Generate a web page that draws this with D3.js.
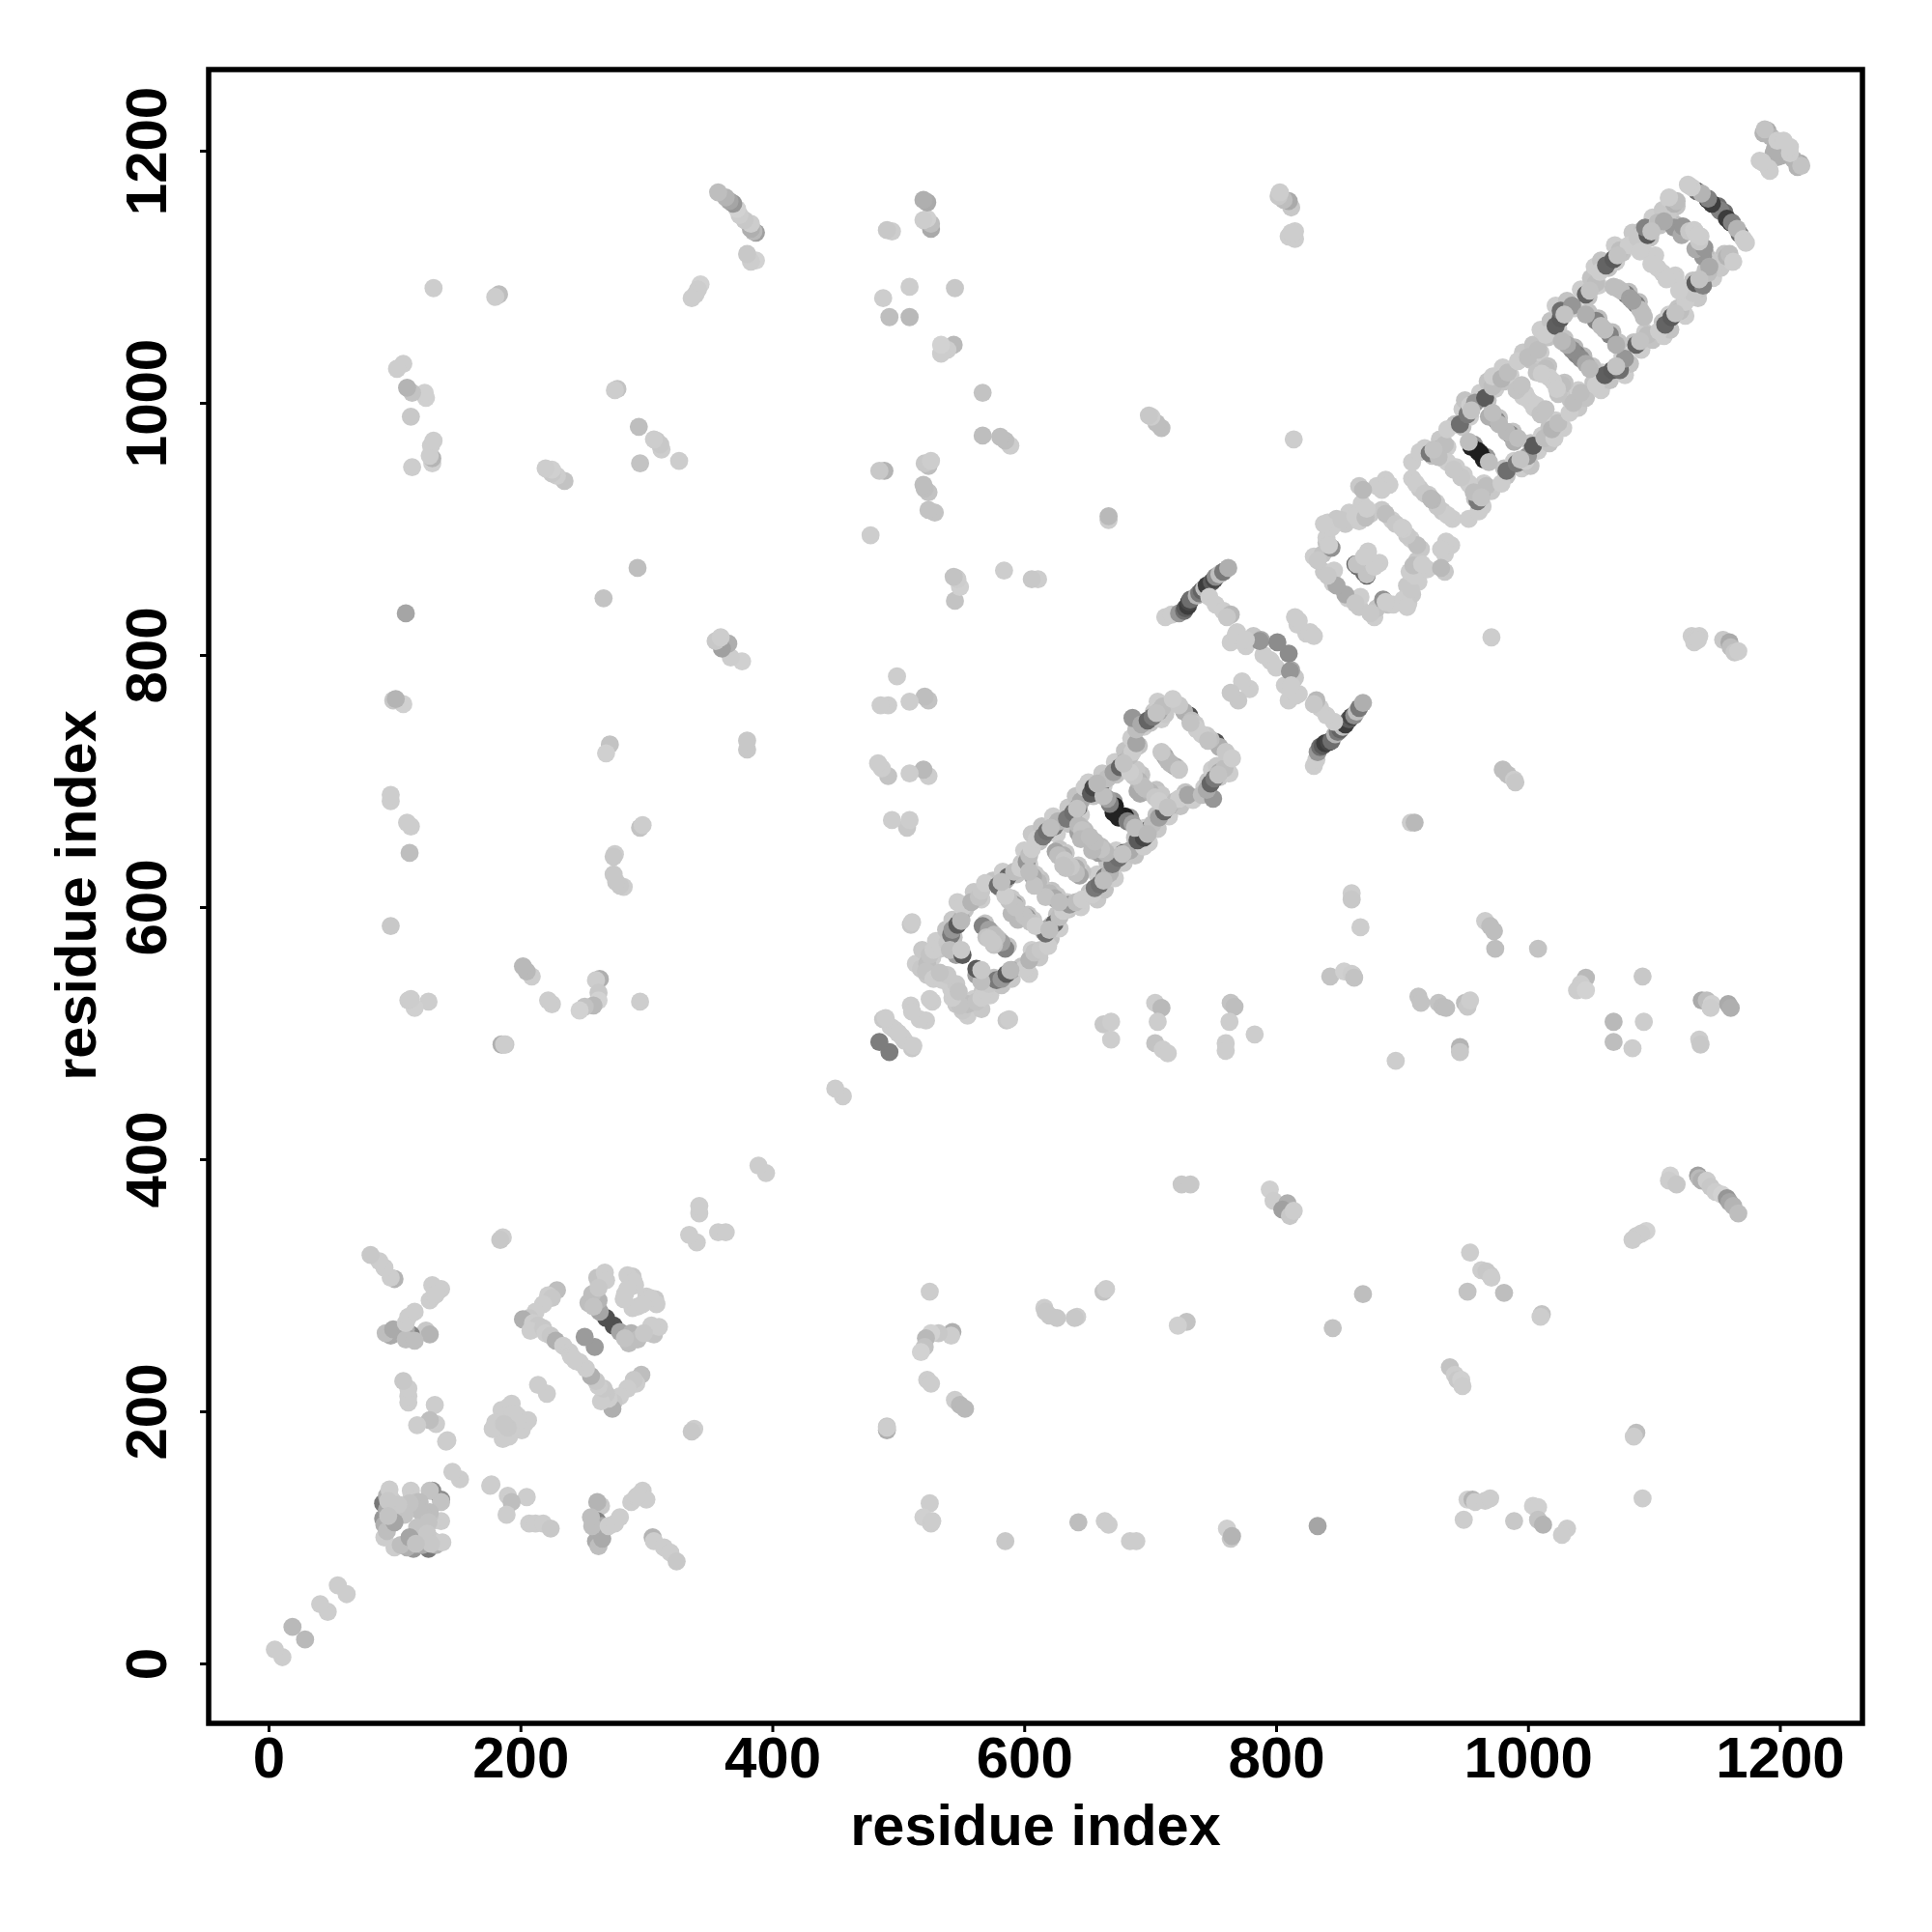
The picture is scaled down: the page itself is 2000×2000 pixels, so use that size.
<!DOCTYPE html>
<html><head><meta charset="utf-8">
<script src="https://cdnjs.cloudflare.com/ajax/libs/d3/7.8.5/d3.min.js"></script>
<style>html,body{margin:0;background:#fff}svg{display:block}</style></head>
<body><div id="chart"></div>
<script>
// Every row: residue i, residue j, gray level of the contact (0 black .. 255 white).
// The map is symmetric: each contact is plotted at (i,j) and (j,i).
const tickValues = [0, 200, 400, 600, 800, 1000, 1200];
const xLabel = "residue index";
const yLabel = "residue index";

const nearDiagonal = [[11,5,205],[29,19,185],[47,41,205],[62,55,205],[152,146,205],[340,334,205],[357,342,205],[363,342,205],[395,389,205],[456,450,205],
[493,485,125],[511,488,200],[505,494,205],[503,497,205],[500,500,205],[512,490,205],[522,510,205],[517,511,205],[527,525,205]];

const boxN = [[127,91,120],[115,91,150],[122,94,170],[133,94,180],[110,92,175],[100,92,205],[105,94,190],[114,99,175],[118,100,190],[129,98,130],[131,97,205],[138,96,205],[137,113,205],[130,113,205],[137,130,140],[128,118,195],[137,128,195],[128,120,190],[122,119,190],[127,112,195],[118,108,195],[126,103,200],[112,100,165],[129,95,200],[117,95,195]];

const boxM = [[259,251,155],[274,268,80],[279,263,165],[288,262,180],[286,254,190],[293,257,190],[303,262,205],[306,261,195],[310,267,205],[307,289,200],[300,291,205],[293,283,205],[289,282,205],[308,285,205],[303,290,205],[297,285,205],[304,268,205],[298,262,200],[283,258,195],[296,229,190],[292,222,205],[290,225,200],[285,218,205],[279,212,205],[274,207,200],[273,202,175],[270,210,205],[268,214,200],[264,208,205],[266,218,200],[262,220,205],[260,224,200],[256,228,175],[252,234,205],[247,239,205],[244,240,205],[241,243,205],[221,214,205],[204,191,205],[201,185,205],[206,193,205],[191,180,205],[186,178,205],[198,196,205],[198,194,205],[190,187,200]];

const sparseLow = [[338,186,205],[336,184,200],[177,142,205],[176,141,205],[190,133,205],[205,132,205],[193,128,190],[189,118,205],[207,111,205],[212,111,205],[218,111,205],[224,107,200],
[264,125,200],[261,128,180],[261,113,130],[260,97,170],[262,93,190],[265,99,170],[265,109,170],[257,109,190],[256,116,190],[270,109,205],[275,111,205],[279,116,205],[288,128,205],[292,132,205],[297,137,205],[300,130,205],[293,133,205],
[305,100,180],[306,97,205],[314,92,205],[319,88,205],[324,81,200],
[725,380,200],[732,380,200],[795,376,208],[798,367,205],[809,365,175],[805,360,160],[811,355,200],[814,359,205],
[525,295,205],[543,263,175],[542,260,205],[532,262,200],[526,262,210],[522,258,185],[521,251,195],[518,247,210],[523,225,205],[526,222,205],[545,209,205],[549,205,185],[553,202,185],[491,185,175],[491,188,200],[491,187,205],
[525,127,205],[520,116,208],[526,111,205],[527,113,205],[585,97,200],[643,112,190],[664,113,205],[667,110,205],[684,97,205],[689,97,205],[761,107,208],[764,99,200],[765,101,180],[833,109,165],
[616,282,205],[617,279,200],[620,276,200],[626,274,200],[642,275,205],[640,274,200],[663,295,195],[665,297,205],[729,271,195],[722,268,208],[845,266,195],[869,293,190],
[1113,387,210],[1112,383,205],[1118,380,200],[1135,387,160],[1136,385,185],[1138,383,175],[1142,383,205],[1145,378,200],[1149,374,205],[1154,372,210],[1158,369,150],[1160,366,165],[1163,363,180],[1167,357,190],
[1094,343,210],[1090,341,205],[1086,339,205],[1083,336,205],[954,326,205],[963,312,205],[967,311,200],[970,308,200],[971,306,205],[952,295,195],[981,294,190],[1011,277,195],[1010,275,205],
[938,235,195],[942,229,205],[944,225,200],[947,225,208],[948,220,205],[1086,183,190],[1084,180,205],[1091,131,205],[952,130,208],[956,130,180],[958,128,205],[966,129,205],[970,131,205],[949,114,205],[989,113,200],[1004,125,208],[1008,124,208],[1008,114,195],[1012,110,180],[1031,107,205],[1027,102,205]];

const sparseMid = [[980,709,190],[984,705,190],[989,701,205],[990,699,200],[907,667,205],[910,667,185],[860,611,205],[860,606,200],[867,584,205],[971,814,205],
[966,589,205],[970,585,190],[973,581,190],[974,567,190],[1008,567,195],[1046,544,185],[1042,539,205],[1039,534,205],[1046,534,210],[1091,545,200],[1068,509,185],[1092,509,205],[1068,493,190],[1083,488,205],
[1138,526,170],[1142,526,190],[1146,523,208],[1145,520,205],[1159,523,170],[1161,520,175],[1136,495,205],[1137,491,200],
[843,545,195],[854,549,208],[861,546,190],[860,547,205],[862,544,195],[913,529,195],[915,524,195],[929,524,195],[932,521,190],[935,520,190],[950,524,190],[952,521,200],[954,526,205],[895,478,205],[946,489,180],[946,485,200],
[663,507,200],[669,509,205],[669,495,205],[704,524,205],[709,520,185],[706,509,205],[704,492,195],[710,487,205],[714,484,205],[764,524,195],[767,521,190],[763,509,205],[760,492,205],[760,486,205],[783,499,205],[586,510,200],[588,511,205],
[1130,815,205],[1136,815,205],[1132,810,205],[1135,812,205],[1155,812,200],[1160,810,170],[1161,806,190],[1164,802,200],[1167,803,205],
[779,773,205],[770,764,200]];

const ladderABacking = [[555,514,205],[566,519,200],[573,530,205],[582,538,195],[590,543,200],[604,547,205],[612,560,200],[621,575,195],[628,583,205],[635,598,200],[645,600,205],[658,606,200],[664,614,195],[672,623,205],[679,635,200],[688,641,195],[699,651,205],[706,662,200],[715,672,205],[724,680,195],[734,685,205],[755,703,200],[763,706,205],
[560,527,205],[567,533,200],[576,544,195],[584,545,205],[598,553,195],[606,566,205],[615,581,195],[622,586,205],[626,594,195],[634,604,205],[652,612,195],[658,626,205],[666,636,195],[673,645,205],[688,655,195],[696,663,205],[705,673,195],[713,682,205],[728,691,195],[743,695,205],[746,700,195],[749,709,205],[753,712,200],
[564,549,195],[587,569,195],[580,574,200],[603,594,195],[607,590,200],[622,613,195],[626,609,200],[646,628,195],[643,633,200],[664,645,195],[661,648,190],[684,671,150],[705,693,195],[709,689,200],[721,711,195]];

const ladderAEdge = [[551,518,200],[546,523,200],[555,523,190],[549,522,195],[543,528,205],[562,525,195],[566,528,205],[569,534,205],[572,539,200],[578,542,120],[582,543,150],[586,547,90],[590,550,170],[600,551,205],[604,558,180],[608,564,195],[613,566,200],[619,569,205],[617,579,110],[620,584,170],[624,587,100],[628,592,190],[631,597,205],[636,602,150],[641,604,190],[646,606,205],[654,610,205],[656,615,120],[660,618,110],[664,624,120],[668,627,180],[670,634,120],[675,639,110],[679,643,100],[684,645,170],[695,648,205],[690,653,90],[695,655,70],[698,661,90],[702,666,190],[707,671,160],[711,676,100],[715,680,160],[720,684,190],[723,686,205],[730,689,165],[741,689,190],[750,686,150],[745,693,170],[748,698,100],[751,702,120],[755,707,170],[759,710,190],[752,731,80],[755,727,175],[748,733,190],[745,736,200],[741,737,205],[746,732,195],[760,723,200],[765,718,205]];

const ladderARungs = [[542,535,205],[546,539,200],[548,533,195],[562,546,160],[566,541,190],[562,551,90],[566,550,200],[585,567,130],[582,572,160],[578,576,190],[576,570,195],[572,575,200],[602,592,150],[597,594,175],[595,590,185],[600,593,195],[605,588,195],[609,585,205],[616,614,200],[620,611,185],[624,607,170],[617,608,195],[628,604,190],[644,625,165],[641,631,175],[641,627,190],[637,632,200],[633,631,195],[659,643,160],[665,643,185],[661,646,195],[654,645,185],[656,652,190],[680,672,30],[675,671,35],[682,668,125],[686,666,160],[688,663,190],[692,690,170],[700,691,180],[696,694,190],[704,687,200],[707,684,205],[719,712,170],[716,714,185],[723,709,200]];

const ladderAOverlay = [[589,550,185],[620,582,190],[663,621,190],[678,642,195],[698,658,185],[714,679,195],[754,705,195]];

const linkStem = [[830,712,205],[832,717,205],[833,723,150],[835,727,110],[837,728,90],[839,730,60],[842,731,70],[844,732,110],[847,737,180],[849,739,120],[851,741,100],[853,743,190],[855,745,60],[858,749,90],[860,751,70],[862,752,140],[864,755,190],[866,758,120],[869,762,175],
[846,747,205],[840,752,205],[835,758,205],[832,764,185],[830,761,200],[818,769,205],[810,764,205],[807,776,205],[815,782,200],[812,788,170],[810,801,140],[796,795,205],[800,790,205],[811,787,150],[816,768,205],[812,776,205],[829,816,205],[824,817,205],[827,818,205],[830,815,205]];

const ladderBBacking = [[857,845,205],[866,838,200],[878,830,205],[889,840,195],[905,841,205],[908,848,200],[913,858,205],[912,875,200],[920,868,205],[934,866,200],[939,887,205],[934,880,205],[915,884,200],[907,892,205],[940,908,205],[932,914,200],[927,921,205],[867,846,205],[880,837,195],[893,840,205],[904,855,200],[906,866,205],
[964,918,205],[971,930,200],[983,942,195],[995,948,205],[1002,950,195],[1008,962,205],[1017,968,195],[1028,980,205],[1040,996,200],[1046,1004,195],[1058,1010,205],[1065,1018,195],[1077,1022,205],[1081,1031,195],[1090,1042,205],[1099,1050,195],[1108,1053,205],[1113,1058,195],[1125,1069,205],[1135,1083,200],[1137,1091,195],[1147,1099,205],[1153,1107,200],[1162,1112,205],
[958,924,195],[965,936,205],[981,948,195],[989,954,205],[1002,968,195],[1011,974,205],[1017,981,195],[1022,986,205],[1034,1002,195],[1040,1010,205],[1052,1016,195],[1059,1024,205],[1071,1028,195],[1075,1037,205],[1084,1048,195],[1093,1056,205],[1107,1064,195],[1112,1070,205],[1119,1075,195],[1129,1089,205],[1131,1097,195],[1137,1095,205],[1141,1105,195],[1147,1113,205],[1156,1118,195],
[955,934,200],[949,943,205],[967,957,150],[988,977,195],[991,971,200],[1007,998,205],[1012,993,195],[1029,1016,195],[1026,1009,200],[1044,1037,185],[1051,1029,195],[1067,1056,190],[1072,1048,195],[1088,1080,190],[1091,1071,195],[1117,1101,205],[1122,1091,205],[1141,1118,190],[1146,1110,195]];

const ladderBBox = [[855,848,170],[863,841,200],[875,833,200],[885,844,145],[887,842,205],[901,844,205],[904,838,205],[907,852,200],[910,863,205],[909,871,190],[916,872,205],[931,869,185],[935,890,205],[931,884,205],[912,887,190],[904,895,200],[901,900,205],[870,865,110],[872,863,100],[872,864,195],[882,873,205],[878,870,205],[936,911,205],[928,918,200],[924,923,185],[953,908,205],[961,914,205]];

const ladderBEdge = [[960,922,120],[963,929,150],[967,934,190],[979,936,205],[983,946,110],[991,952,120],[998,954,205],[1000,958,150],[1004,966,90],[1013,972,190],[1021,972,205],[1019,979,180],[1024,984,190],[1033,992,205],[1036,1000,190],[1042,1008,190],[1054,1014,205],[1061,1022,95],[1067,1026,90],[1073,1026,110],[1077,1035,150],[1086,1046,100],[1095,1054,190],[1104,1057,205],[1109,1062,100],[1114,1068,90],[1121,1073,190],[1125,1080,205],[1131,1087,200],[1133,1095,90],[1139,1093,130],[1143,1103,190],[1149,1111,200],[1158,1116,180],[1160,1118,190],[1163,1112,205],
[1161,1143,40],[1168,1134,110],[1156,1151,110],[1153,1152,130],[1158,1146,60],[1162,1143,130],[1166,1138,180],[1171,1130,205],[1173,1127,205]];

const ladderBRungs = [[953,936,205],[947,941,200],[957,929,190],[965,955,35],[962,960,30],[969,953,190],[986,975,130],[989,969,175],[983,977,185],[992,972,190],[1003,1000,205],[1005,996,205],[1010,991,195],[1014,995,195],[1027,1014,190],[1024,1007,195],[1020,1017,205],[1023,1011,205],[1039,1038,130],[1042,1035,140],[1046,1031,170],[1049,1027,185],[1065,1054,130],[1070,1046,175],[1061,1058,190],[1086,1078,125],[1089,1074,190],[1092,1068,190],[1081,1083,160],[1115,1099,205],[1107,1103,205],[1120,1089,205],[1110,1098,205],[1139,1116,150],[1144,1108,170],[1133,1122,170],[1140,1123,150],[1136,1128,200],[1137,1132,205],[1133,1135,205]];

const ladderBOverlay = [[963,925,195],[994,955,195],[1070,1029,195],[1089,1049,195],[1117,1071,195],[1136,1098,195]];

const cornerBlock = [[1214,1187,180],[1216,1190,170],[1211,1193,180],[1217,1188,195],[1201,1196,175],[1198,1195,175],[1208,1198,205],[1208,1203,205],[1192,1184,205],[1191,1186,205]];

const contacts = [nearDiagonal, boxN, boxM, sparseLow, sparseMid, ladderABacking, ladderAEdge, ladderARungs, ladderAOverlay, linkStem, ladderBBacking, ladderBBox, ladderBEdge, ladderBRungs, ladderBOverlay, cornerBlock].flat();

const W = 2000, H = 2000;
const frame = {left: 216, right: 1928, top: 72, bottom: 1784};
const x = d3.scaleLinear().domain([0, 1200]).range([278, 1842.5]);
const y = d3.scaleLinear().domain([0, 1200]).range([1722, 156]);
const shade = d3.scaleLinear().domain([0, 255]).range(["#000000", "#ffffff"]);
const FONT = "'Liberation Sans', Arial, sans-serif";

const svg = d3.select("#chart").append("svg").attr("width", W).attr("height", H).attr("viewBox", [0, 0, W, H]);
svg.append("rect").attr("width", W).attr("height", H).attr("fill", "#fff");

const pts = svg.append("g");
const mirrored = contacts.flatMap(([i, j, g]) => [{a: i, b: j, g}, {a: j, b: i, g}]);
pts.selectAll("circle").data(mirrored).join("circle")
  .attr("cx", d => x(d.a)).attr("cy", d => y(d.b)).attr("r", 9.4)
  .attr("fill", d => shade(d.g));

svg.append("rect").attr("x", frame.left).attr("y", frame.top)
  .attr("width", frame.right - frame.left).attr("height", frame.bottom - frame.top)
  .attr("fill", "none").attr("stroke", "#000").attr("stroke-width", 5.5);

const gx = svg.append("g").attr("transform", `translate(0,${frame.bottom})`)
  .call(d3.axisBottom(x).tickValues(tickValues).tickSize(9).tickFormat(d3.format("d")));
const gy = svg.append("g").attr("transform", `translate(${frame.left},0)`)
  .call(d3.axisLeft(y).tickValues(tickValues).tickSize(9).tickFormat(d3.format("d")));
[gx, gy].forEach(g => {
  g.select(".domain").remove();
  g.selectAll("line").attr("stroke", "#000").attr("stroke-width", 3);
  g.selectAll("text").attr("font-family", FONT).attr("font-weight", 700)
    .attr("font-size", 60).attr("fill", "#000");
});
gx.selectAll("text").attr("y", 0).attr("dy", null).attr("text-anchor", "middle")
  .attr("transform", "translate(0,56)");
gy.selectAll("text").attr("x", 0).attr("dy", null).attr("text-anchor", "middle")
  .attr("transform", "translate(-44,0) rotate(-90)");

svg.append("text").attr("x", 1072).attr("y", 1910).attr("text-anchor", "middle")
  .attr("font-family", FONT).attr("font-weight", 700).attr("font-size", 59.5).text(xLabel);
svg.append("text").attr("transform", "translate(99,927) rotate(-90)").attr("text-anchor", "middle")
  .attr("font-family", FONT).attr("font-weight", 700).attr("font-size", 59.5).text(yLabel);
</script></body></html>
